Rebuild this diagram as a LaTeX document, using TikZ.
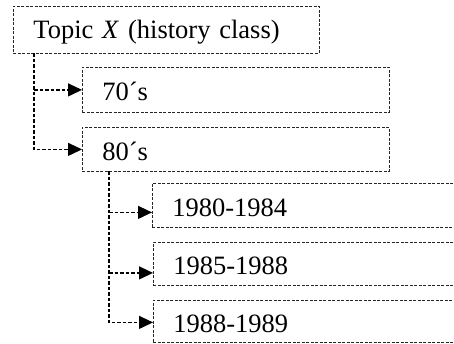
\documentclass[tikz,border=0pt]{standalone}
\usepackage{fontspec}
\setmainfont{Liberation Serif}
\usetikzlibrary{arrows.meta}

\begin{document}
\begin{tikzpicture}[x=1pt,y=-1pt,
  box/.style={draw=black!85, line width=0.8pt, dash pattern=on 3pt off 1.5pt,
    rectangle, anchor=north west, inner xsep=20pt, inner ysep=0pt, align=left,
    font=\fontsize{26.5}{30}\selectfont, text height=22pt, text depth=0pt},
  link/.style={draw=black, line width=1.2pt, dash pattern=on 3.5pt off 2pt,
    -{Triangle[length=14pt,width=13pt]}}]
  \clip (0,0) rectangle (454,343);

  % top level
  \node[box, text width=266pt, minimum height=47pt, text height=17pt] (topic) at (13,6)
    {Topic \textit{X} (history class)};

  % decades
  \node[box, text width=267pt, minimum height=45pt] (s70) at (82,67) {70´s};
  \node[box, text width=267pt, minimum height=44pt] (s80) at (82,127) {80´s};

  % periods of the 80s (boxes run past the right edge)
  \node[box, text width=300pt, minimum height=44pt] (p1) at (152,183) {1980-1984};
  \node[box, text width=300pt, minimum height=43pt] (p2) at (153,242) {1985-1988};
  \node[box, text width=300pt, minimum height=42pt] (p3) at (153,300) {1988-1989};

  % arrow ends on the period boxes
  \coordinate (a1) at ([yshift=-7pt]p1.west);
  \coordinate (a2) at ([yshift=-9pt]p2.west);
  \coordinate (a3) at ([yshift=-1pt]p3.west);

  % connectors from the topic
  \coordinate (t0) at (34,53);
  \draw[link] (t0) |- (s80.west);
  \draw[link] (t0 |- s70.west) -- (s70.west);

  % connectors from the 80s
  \coordinate (e0) at (109,171);
  \draw[link] (e0) |- (a3);
  \draw[link] (e0 |- a1) -- (a1);
  \draw[link] (e0 |- a2) -- (a2);
\end{tikzpicture}
\end{document}
